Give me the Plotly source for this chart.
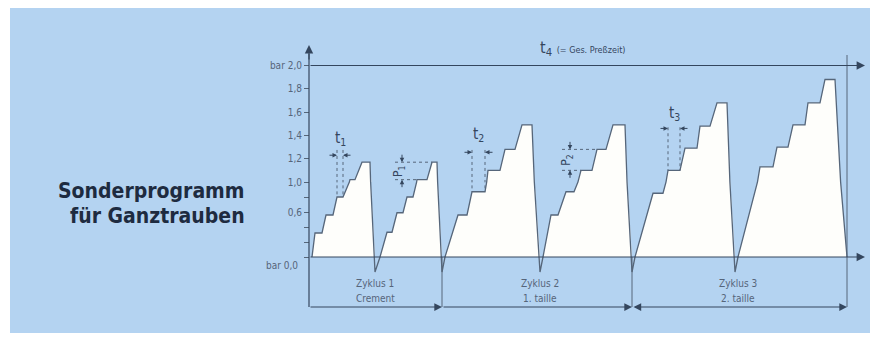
import plotly.graph_objects as go

# ---------------- data (schematic press programme) ----------------
# time in arbitrary schematic units (axis 0 ... 56), pressure in bar
c1a_t = [0.3, 0.6, 1.3, 1.7, 2.4, 2.8, 3.4, 4.1, 4.6, 5.3, 6.1, 6.6]
c1a_p = [0.0, 0.32, 0.32, 0.56, 0.56, 0.80, 0.80, 1.02, 1.02, 1.17, 1.17, -0.20]
c1b_t = [7.1, 7.8, 8.3, 8.8, 9.4, 9.8, 10.4, 10.8, 11.8, 12.3, 12.8, 13.3]
c1b_p = [0.0, 0.33, 0.33, 0.59, 0.59, 0.80, 0.80, 1.02, 1.02, 1.17, 1.17, -0.20]
c2a_t = [13.6, 14.9, 15.8, 16.3, 17.6, 17.9, 19.1, 19.6, 20.6, 21.3, 22.3, 23.1]
c2a_p = [0.0, 0.56, 0.56, 0.87, 0.87, 1.10, 1.10, 1.28, 1.28, 1.49, 1.49, -0.20]
c2b_t = [23.4, 24.2, 24.9, 25.7, 26.5, 27.2, 28.3, 28.8, 29.7, 30.4, 31.6, 32.3]
c2b_p = [0.0, 0.56, 0.56, 0.87, 0.87, 1.10, 1.10, 1.28, 1.28, 1.49, 1.49, -0.20]
c3a_t = [32.6, 34.4, 35.4, 35.9, 37.1, 37.6, 38.8, 39.1, 40.1, 40.8, 41.8, 42.6]
c3a_p = [0.0, 0.85, 0.85, 1.10, 1.10, 1.29, 1.29, 1.48, 1.48, 1.68, 1.68, -0.20]
c3b_t = [42.9, 45.1, 46.4, 46.8, 47.9, 48.4, 49.6, 49.9, 51.1, 51.6, 52.6, 53.8]
c3b_p = [0.0, 1.13, 1.13, 1.30, 1.30, 1.49, 1.49, 1.68, 1.68, 1.88, 1.88, 0.0]

cycle_names = ["Zyklus 1", "Zyklus 2", "Zyklus 3"]
cycle_sub = ["Crement", "1. taille", "2. taille"]

low_tickvals = [0.0, 0.2, 0.4, 0.6, 0.8, 1.0]
low_ticktext = ["", "", "", "0,6", "", "1,0"]
high_tickvals = [1.2, 1.4, 1.6, 1.8, 2.0]
high_ticktext = ["1,2", "1,4", "1,6", "1,8", "bar 2,0"]

title_lines = ["Sonderprogramm", "für Ganztrauben"]

# ---------------- styling / geometry ----------------
BG = "#b4d3f1"
FILL = "#fefefb"
LINE = "#56667a"
DARK = "#34465e"
TXT = "#56657a"
FONT = "Liberation Sans Narrow, DejaVu Sans Condensed, Arial Narrow, sans-serif"

OFF = 8                 # page body margin the figure sits inside
FW, FH = 871, 334       # figure size (page is 879 x 342)
# plot frame in page pixels
L, R, T, B = 306, 869, 40, 312
SPLIT = 182            # pixel row where the two pressure scales meet (1.0 bar)
LOW_PX = 75.0          # px per bar below 1.0 bar
HIGH_PX = 116.5        # px per bar above 1.0 bar
lo_min = 1 - (B - SPLIT) / LOW_PX
hi_max = 1 + (SPLIT - T) / HIGH_PX
split_frac = (B - SPLIT) / (B - T)
XMIN, XMAX = -0.3, 56.0


def yp(v):
    """bar value -> paper fraction on the stacked two-part pressure scale"""
    if v <= 1:
        return (v - lo_min) / (1 - lo_min) * split_frac
    return split_frac + (v - 1) / (hi_max - 1) * (1 - split_frac)


def xp(px):
    return (px - L) / (R - L)


def ypx(px):
    return (B - px) / (B - T)


cycles = [(c1a_t, c1a_p), (c1b_t, c1b_p), (c2a_t, c2a_p),
          (c2b_t, c2b_p), (c3a_t, c3a_p), (c3b_t, c3b_p)]
all_t, all_p = [], []
for ts, ps in cycles:
    all_t += ts
    all_p += ps
fill_p = [max(v, 0.0) for v in all_p]

fig = go.Figure()
for ya in ("y", "y2"):
    fig.add_trace(go.Scatter(x=all_t, y=fill_p, mode="lines", fill="tozeroy",
                             fillcolor=FILL, line=dict(width=0, color=FILL),
                             yaxis=ya, hoverinfo="skip"))
for ya in ("y", "y2"):
    fig.add_trace(go.Scatter(x=all_t, y=all_p, mode="lines",
                             line=dict(width=1.3, color=LINE),
                             yaxis=ya, hoverinfo="skip"))


def dotted(xs, ys):
    for a in ("y", "y2"):
        fig.add_trace(go.Scatter(x=xs, y=ys, mode="lines",
                                 line=dict(width=1, color=LINE, dash="dot"),
                                 yaxis=a, hoverinfo="skip"))


def small_arrow(x, y, yref, ax, ay):
    fig.add_annotation(x=x, y=y, xref="x", yref=yref, ax=ax, ay=ay, text="",
                       showarrow=True, arrowhead=2, arrowsize=0.9,
                       arrowwidth=1, arrowcolor=DARK)


# t1 / t2 / t3 duration marks (one step of the stair)
tmarks = [(c1a_t, c1a_p, 5, 1.275, 1.23, "t<sub>1</sub>", 1.37),
          (c2a_t, c2a_p, 3, 1.275, 1.255, "t<sub>2</sub>", 1.41),
          (c3a_t, c3a_p, 3, 1.47, 1.46, "t<sub>3</sub>", 1.59)]
for ts, ps, i, top, arr_y, lab, lab_y in tmarks:
    x0, x1, lvl = ts[i], ts[i + 1], ps[i]
    dotted([x0, x0], [top, lvl])
    dotted([x1, x1], [top, lvl])
    small_arrow(x0, arr_y, "y2", -9, 0)
    small_arrow(x1, arr_y, "y2", 9, 0)
    fig.add_annotation(x=(x0 + x1) / 2, y=lab_y, xref="x", yref="y2", text=lab,
                       showarrow=False, font=dict(size=15, color=DARK, family=FONT))

# p1 / p2 pressure-step marks
pmarks = [(c1b_t, c1b_p, 7, 9, 8.6, 9.3, "P<sub>1</sub>", 9.0),
          (c2b_t, c2b_p, 5, 7, 25.3, 26.1, "P<sub>2</sub>", 25.8)]
for ts, ps, i_lo, i_hi, xs, xa, lab, xl in pmarks:
    lo, hi = ps[i_lo], ps[i_hi]
    dotted([xs, ts[i_lo]], [lo, lo])
    dotted([xs, ts[i_hi]], [hi, hi])
    small_arrow(xa, hi, "y2", 0, -9)
    small_arrow(xa, lo, "y2" if lo > 1 else "y", 0, 9)
    fig.add_annotation(x=xl, y=(lo + hi) / 2, xref="x", yref="y2", text=lab,
                       textangle=-90, showarrow=False,
                       font=dict(size=12, color=DARK, family=FONT))

# blue panel
fig.add_shape(type="rect", xref="paper", yref="paper", x0=xp(10), x1=xp(870),
              y0=ypx(333), y1=ypx(8), fillcolor=BG, line=dict(width=0), layer="below")

# main axis lines
x_end = 55.6
fig.add_shape(type="line", xref="x", yref="paper", x0=0, x1=0,
              y0=yp(-0.667), y1=yp(2.1), line=dict(color=DARK, width=1.2))
bounds = [c1b_t[-1], c2b_t[-1], c3b_t[-1]]
for bx in bounds[:2]:
    fig.add_shape(type="line", xref="x", yref="y", x0=bx, x1=bx,
                  y0=0, y1=-0.667, line=dict(color=LINE, width=1))
fig.add_shape(type="line", xref="x", yref="paper", x0=bounds[2], x1=bounds[2],
              y0=yp(-0.667), y1=yp(2.09), line=dict(color=LINE, width=1))

fig.add_annotation(x=0, y=2.176, xref="x", yref="y2", ax=0, ay=16, text="",
                   showarrow=True, arrowhead=2, arrowsize=1.4, arrowwidth=1.2,
                   arrowcolor=DARK)
for yv, yr in ((2.0, "y2"), (0.0, "y")):
    fig.add_annotation(x=x_end, y=yv, xref="x", yref=yr, ax=0, ay=yv,
                       axref="x", ayref=yr, text="", showarrow=True,
                       arrowhead=2, arrowsize=1.4, arrowwidth=1.2, arrowcolor=DARK)

# cycle arrows + labels
starts = [0.0, bounds[0], bounds[1]]
for k in range(3):
    fig.add_annotation(x=bounds[k], y=-0.667, xref="x", yref="y",
                       ax=starts[k], ay=-0.667, axref="x", ayref="y", text="",
                       showarrow=True, arrowhead=2, arrowsize=1.4, arrowwidth=1.1,
                       arrowcolor=DARK, arrowside="end+start" if k == 2 else "end")
label_x = [6.6, 23.1, 42.9]
for k in range(3):
    fig.add_annotation(x=label_x[k], y=-0.347, xref="x", yref="y", text=cycle_names[k],
                       showarrow=False, font=dict(size=10, color=TXT, family=FONT))
    fig.add_annotation(x=label_x[k], y=-0.547, xref="x", yref="y", text=cycle_sub[k],
                       showarrow=False, font=dict(size=10, color=TXT, family=FONT))

# t4 label, t label, bar 0.0
fig.add_annotation(x=27.4, y=2.15, xref="x", yref="y2",
                   text="t<sub>4</sub> <span style='font-size:9px'>(= Ges. Preßzeit)</span>",
                   showarrow=False, font=dict(size=16, color=DARK, family=FONT))
fig.add_annotation(x=xp(875), y=0, xref="paper", yref="y", text="t", xanchor="center",
                   showarrow=False, font=dict(size=11, color=DARK, family=FONT))
fig.add_annotation(x=xp(300), y=-0.107, xref="paper", yref="y", text="bar 0,0",
                   xanchor="right", showarrow=False,
                   font=dict(size=10, color=TXT, family=FONT))

# left title
for line, ypix in zip(title_lines, (191, 216)):
    fig.add_annotation(x=xp(247), y=ypx(ypix), xref="paper", yref="paper",
                       text="<b>" + line + "</b>", xanchor="right", yanchor="middle",
                       showarrow=False, font=dict(size=21, color="#1e2b40", family=FONT))

axis_common = dict(showgrid=False, zeroline=False, showline=False, ticks="outside",
                   ticklen=5, tickwidth=1, tickcolor=LINE, anchor="free",
                   position=xp(309), tickmode="array",
                   tickfont=dict(size=10, color=TXT, family=FONT))
fig.update_layout(
    width=FW, height=FH,
    margin=dict(l=L - OFF, r=OFF + FW - R, t=T - OFF, b=OFF + FH - B),
    paper_bgcolor="white", plot_bgcolor="rgba(0,0,0,0)",
    showlegend=False,
    xaxis=dict(domain=[0, 1], range=[XMIN, XMAX], visible=False, anchor="y"),
    yaxis=dict(domain=[0, split_frac], range=[lo_min, 1.0],
               tickvals=low_tickvals, ticktext=low_ticktext, **axis_common),
    yaxis2=dict(domain=[split_frac, 1], range=[1.0, hi_max],
                tickvals=high_tickvals, ticktext=high_ticktext, **axis_common),
)

fig.write_html("out.html")
